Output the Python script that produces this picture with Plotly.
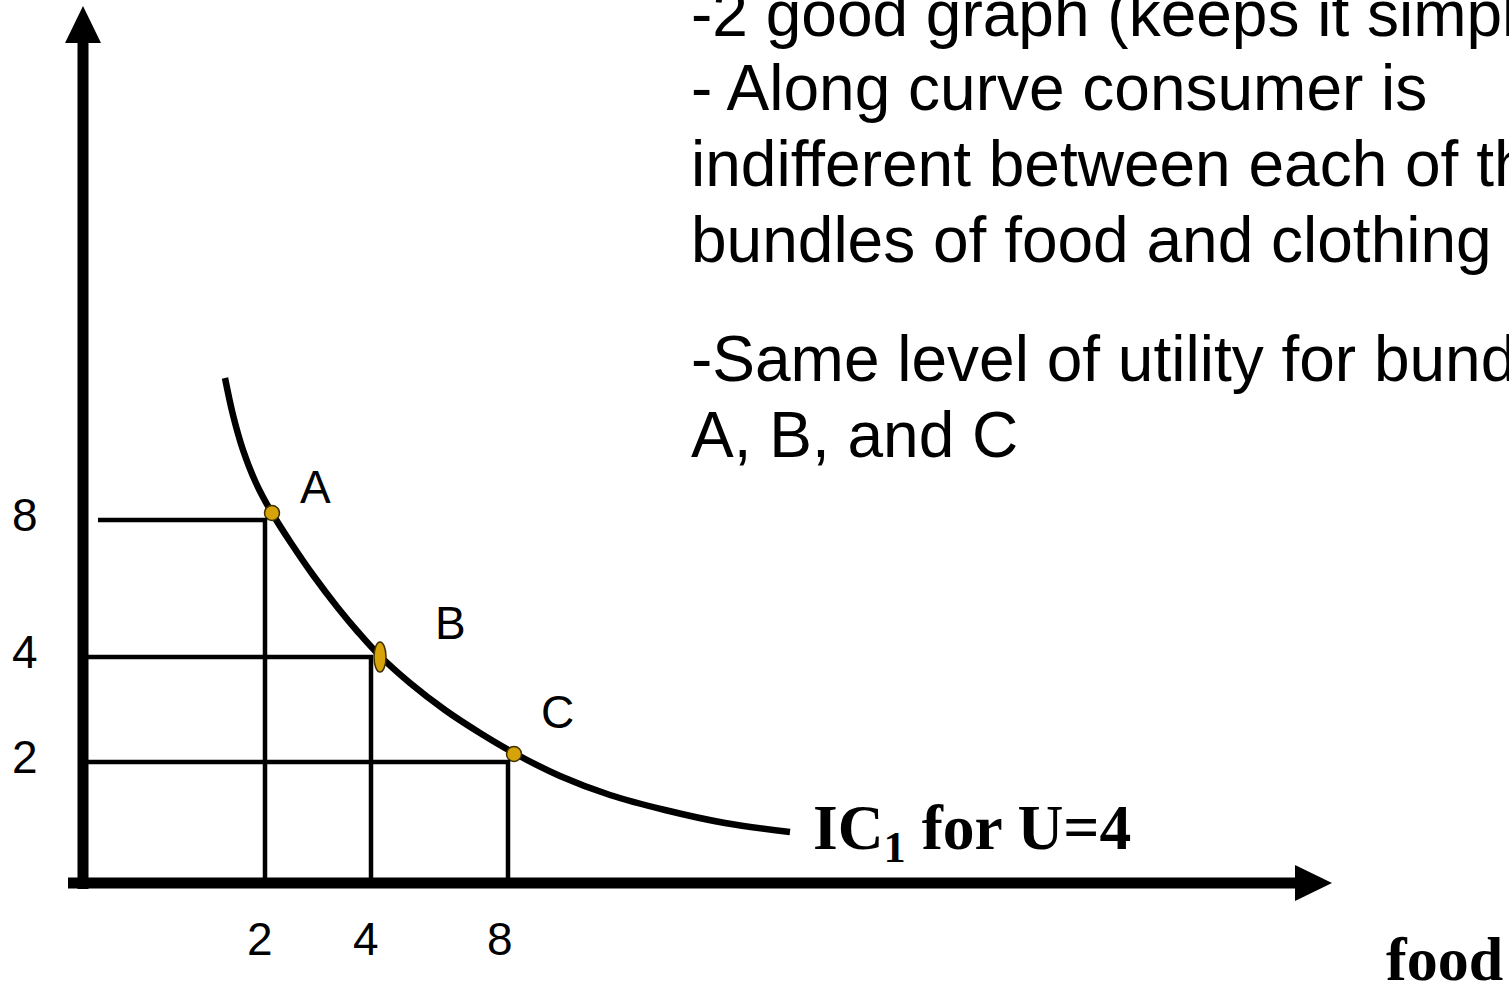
import plotly.graph_objects as go

# ---------------- data (chart units: 1 unit = 1 px, origin at the axes corner) ----------------
curve_food = [142, 150, 160, 173, 189, 208, 230, 255, 275, 296, 327, 362, 397, 431, 477, 527, 582, 642, 707]
curve_clothing = [505, 468, 433, 400, 370, 340, 308, 275, 251, 228, 200, 173, 150, 130, 107, 88, 73, 60, 51]

bundles = ["A", "B", "C"]
bundle_food = [189, 296, 431]
bundle_clothing = [370, 226, 129]

guide_food = [182, 288, 425]          # where the dropped lines meet the food axis
guide_clothing = [363, 226, 121]      # where the horizontal lines meet the clothing axis
guide_start = [15, 0, 0]

food_tick_labels = ["2", "4", "8"]
clothing_tick_labels = ["8", "4", "2"]

curve_label = "IC<sub>1</sub> for U=4"
x_title = "food"
notes = [
    "-2 good graph (keeps it simple)",
    "- Along curve consumer is",
    "indifferent between each of the",
    "bundles of food and clothing",
    "-Same level of utility for bundles",
    "A, B, and C",
]

# ---------------- styling ----------------
W, H = 1509, 983
PAGE_OFFSET = 0                      # body margin is removed below
ORIGIN_X, ORIGIN_Y = 83 - PAGE_OFFSET, 883 - PAGE_OFFSET
SANS = "Arial, Liberation Sans, sans-serif"
SERIF = "Times New Roman, Liberation Serif, serif"
GOLD = "#D6A30A"
EDGE = "#3d3000"
note_centers_px = [14, 88, 164, 240, 359, 435]
label_offsets = [(43, 26), (71, 34), (43, 42)]
tick_x_shifts = [-5, -5, -8]


def px_x(p):
    return (p - PAGE_OFFSET) / W


def px_y(p):
    return 1 - (p - PAGE_OFFSET) / H


fig = go.Figure()

# axes
Y_TOP, X_RIGHT, HEAD = 877, 1249, 36
fig.add_trace(go.Scatter(x=[0, 0], y=[-6, Y_TOP - HEAD], mode="lines",
                         line=dict(color="black", width=11), hoverinfo="skip"))
fig.add_trace(go.Scatter(x=[-HEAD / 2, HEAD / 2, 0, -HEAD / 2],
                         y=[Y_TOP - HEAD - 1, Y_TOP - HEAD - 1, Y_TOP, Y_TOP - HEAD - 1],
                         mode="lines", fill="toself", fillcolor="black",
                         line=dict(color="black", width=0), hoverinfo="skip"))
fig.add_trace(go.Scatter(x=[-15, X_RIGHT - HEAD], y=[0, 0], mode="lines",
                         line=dict(color="black", width=11), hoverinfo="skip"))
fig.add_trace(go.Scatter(x=[X_RIGHT - HEAD - 1, X_RIGHT - HEAD - 1, X_RIGHT, X_RIGHT - HEAD - 1],
                         y=[-HEAD / 2, HEAD / 2, 0, -HEAD / 2],
                         mode="lines", fill="toself", fillcolor="black",
                         line=dict(color="black", width=0), hoverinfo="skip"))

# indifference curve
fig.add_trace(go.Scatter(x=curve_food, y=curve_clothing, mode="lines",
                         line=dict(color="black", width=6.5, shape="spline", smoothing=1.0),
                         hoverinfo="skip"))

# bundle markers (A and C as dots, B as an upright ellipse shape)
fig.add_trace(go.Scatter(x=[bundle_food[0], bundle_food[2]], y=[bundle_clothing[0], bundle_clothing[2]],
                         mode="markers",
                         marker=dict(size=15, color=GOLD, line=dict(color=EDGE, width=1.5)),
                         hoverinfo="skip"))
fig.add_shape(type="circle", xref="x", yref="y", xsizemode="pixel", ysizemode="pixel",
              xanchor=bundle_food[1], yanchor=bundle_clothing[1],
              x0=-5, x1=7, y0=-15, y1=15,
              fillcolor=GOLD, line=dict(color=EDGE, width=1.5), layer="above")

# guide lines
for gx, gy, gs in zip(guide_food, guide_clothing, guide_start):
    fig.add_trace(go.Scatter(x=[gs, gx, gx], y=[gy, gy, 0], mode="lines",
                             line=dict(color="black", width=4.5), hoverinfo="skip"))

annotations = []
# tick labels
for gx, lab, dx in zip(guide_food, food_tick_labels, tick_x_shifts):
    annotations.append(dict(x=gx, y=0, xref="x", yref="y", text=lab, showarrow=False,
                            xanchor="center", yanchor="middle", xshift=dx, yshift=-56,
                            font=dict(family=SANS, size=46, color="black")))
for gy, lab in zip(guide_clothing, clothing_tick_labels):
    annotations.append(dict(x=0, y=gy, xref="x", yref="y", text=lab, showarrow=False,
                            xanchor="center", yanchor="middle", xshift=-58, yshift=5,
                            font=dict(family=SANS, size=46, color="black")))
# bundle letters
for bx, by, name, (dx, dy) in zip(bundle_food, bundle_clothing, bundles, label_offsets):
    annotations.append(dict(x=bx, y=by, xref="x", yref="y", text=name, showarrow=False,
                            xanchor="center", yanchor="middle", xshift=dx, yshift=dy,
                            font=dict(family=SANS, size=46, color="black")))
# curve label
annotations.append(dict(x=curve_food[-1], y=curve_clothing[-1], xref="x", yref="y",
                        text="<b>" + curve_label + "</b>", showarrow=False,
                        xanchor="left", yanchor="middle", xshift=21, yshift=0,
                        font=dict(family=SERIF, size=63.5, color="black")))
# axis title
annotations.append(dict(x=px_x(1384), y=px_y(959), xref="paper", yref="paper",
                        text="<b>" + x_title + "</b>", showarrow=False,
                        xanchor="left", yanchor="middle",
                        font=dict(family=SERIF, size=62, color="black")))
# notes
for line, cy in zip(notes, note_centers_px):
    annotations.append(dict(x=px_x(689), y=px_y(cy), xref="paper", yref="paper",
                            text=line, showarrow=False, xanchor="left", yanchor="middle",
                            font=dict(family=SANS, size=64, color="black")))

fig.update_layout(
    width=W, height=H,
    margin=dict(l=0, r=0, t=0, b=0, pad=0),
    paper_bgcolor="white", plot_bgcolor="white",
    showlegend=False,
    xaxis=dict(range=[-ORIGIN_X, W - ORIGIN_X], visible=False, fixedrange=True),
    yaxis=dict(range=[-(H - ORIGIN_Y), ORIGIN_Y], visible=False, fixedrange=True),
    annotations=annotations,
)

fig.write_html("out.html", config={"displayModeBar": False},
               post_script="document.body.style.margin='0px';")
